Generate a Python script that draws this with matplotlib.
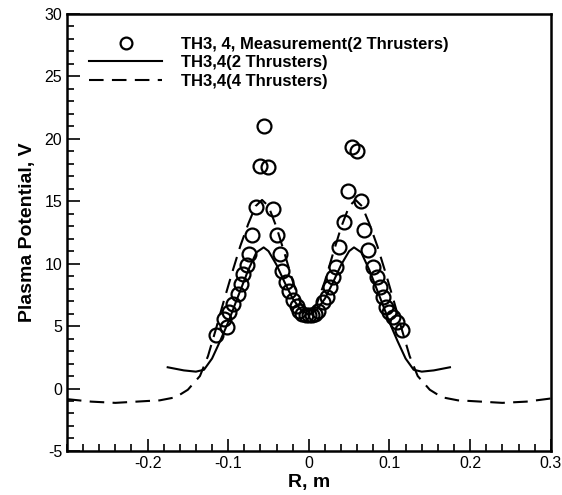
import matplotlib.pyplot as plt
from matplotlib.ticker import MultipleLocator

plt.rcParams['font.family'] = ['Liberation Sans', 'DejaVu Sans']
plt.rcParams['axes.unicode_minus'] = False

# measurement, 2 thrusters
meas_r = [-0.115, -0.105, -0.101, -0.099, -0.094, -0.088, -0.084, -0.082, -0.077, -0.074,
          -0.070, -0.065, -0.060, -0.056, -0.051, -0.045, -0.040, -0.036, -0.033, -0.028,
          -0.024, -0.020, -0.015, -0.012, -0.008, -0.004, 0.000, 0.004, 0.008, 0.012,
          0.017, 0.022, 0.026, 0.030, 0.034, 0.038, 0.044, 0.048, 0.053, 0.060,
          0.065, 0.069, 0.073, 0.079, 0.084, 0.088, 0.092, 0.096, 0.100, 0.104,
          0.109, 0.115]
meas_v = [4.3, 5.6, 4.9, 6.1, 6.8, 7.6, 8.4, 9.2, 9.9, 10.8,
          12.3, 14.5, 17.8, 21.0, 17.7, 14.4, 12.3, 10.8, 9.4, 8.5,
          7.8, 7.1, 6.6, 6.2, 6.0, 5.9, 5.85, 5.9, 6.0, 6.2,
          6.9, 7.3, 8.1, 8.9, 9.75, 11.35, 13.3, 15.8, 19.3, 19.0,
          15.0, 12.7, 11.1, 9.75, 8.9, 8.1, 7.3, 6.5, 6.1, 5.7,
          5.3, 4.7]

# simulation, 2 thrusters
sim2_r = [-0.175, -0.155, -0.14, -0.13, -0.12, -0.11, -0.10, -0.09, -0.075, -0.065,
          -0.056, -0.05, -0.04, -0.03, -0.02, -0.01, 0.0, 0.01, 0.02, 0.03,
          0.04, 0.05, 0.056, 0.065, 0.075, 0.09, 0.10, 0.11, 0.12, 0.13,
          0.14, 0.155, 0.175]
sim2_v = [1.7, 1.45, 1.35, 1.5, 2.4, 3.8, 5.3, 7.0, 9.5, 10.9,
          11.3, 11.0, 9.9, 8.5, 7.2, 6.3, 5.9, 6.3, 7.2, 8.5,
          9.9, 11.0, 11.3, 10.9, 9.5, 7.0, 5.3, 3.8, 2.4, 1.5,
          1.35, 1.45, 1.7]

# simulation, 4 thrusters
sim4_r = [-0.3, -0.27, -0.24, -0.2, -0.185, -0.165, -0.15, -0.135, -0.125, -0.115,
          -0.105, -0.095, -0.085, -0.075, -0.066, -0.058, -0.05, -0.04, -0.03, -0.02,
          -0.01, 0.0, 0.01, 0.02, 0.03, 0.04, 0.05, 0.058, 0.066, 0.075,
          0.085, 0.095, 0.105, 0.115, 0.125, 0.135, 0.15, 0.165, 0.185, 0.2,
          0.24, 0.27, 0.3]
sim4_v = [-0.85, -1.05, -1.15, -1.0, -0.95, -0.7, -0.1, 1.0, 2.6, 4.8,
          7.1, 9.3, 11.4, 13.2, 14.6, 15.1, 14.6, 12.9, 10.8, 8.6,
          6.8, 6.0, 6.8, 8.6, 10.8, 12.9, 14.6, 15.1, 14.6, 13.2,
          11.4, 9.3, 7.1, 4.8, 2.6, 1.0, -0.1, -0.7, -0.95, -1.0,
          -1.15, -1.05, -0.8]

fig = plt.figure(figsize=(5.62, 4.95), dpi=100)
ax = fig.add_axes([0.119, 0.089, 0.861, 0.883])

ax.plot(meas_r, meas_v, 'o', mfc='none', mec='black', ms=10, mew=1.6,
        label='TH3, 4, Measurement(2 Thrusters)')
ax.plot(sim2_r, sim2_v, '-', color='black', lw=1.5, label='TH3,4(2 Thrusters)')
ax.plot(sim4_r, sim4_v, '--', color='black', lw=1.5, dashes=(7, 4),
        label='TH3,4(4 Thrusters)')

ax.set_xlim(-0.3, 0.3)
ax.set_ylim(-5, 30)
ax.set_xticks([-0.2, -0.1, 0, 0.1, 0.2, 0.3])
ax.set_xticklabels(['-0.2', '-0.1', '0', '0.1', '0.2', '0.3'])
ax.set_yticks([-5, 0, 5, 10, 15, 20, 25, 30])
ax.xaxis.set_minor_locator(MultipleLocator(0.02))
ax.yaxis.set_minor_locator(MultipleLocator(1))
ax.tick_params(which='both', direction='in', top=False, right=False, labelsize=11.5, width=1.2)
ax.tick_params(which='major', length=9)
ax.tick_params(which='minor', length=5)
for s in ax.spines.values():
    s.set_linewidth(1.8)

ax.set_xlabel('R, m', fontsize=14, fontweight='bold', labelpad=2)
ax.set_ylabel('Plasma Potential, V', fontsize=14, fontweight='bold', labelpad=6)

ax.legend(loc='upper left', bbox_to_anchor=(0.025, 0.97), frameon=False,
          prop={'weight': 'bold', 'size': 12}, handlelength=4.4, markerscale=0.85,
          handletextpad=1.1, labelspacing=0.2, borderaxespad=0.2)

fig.savefig('out.png', dpi=100)
